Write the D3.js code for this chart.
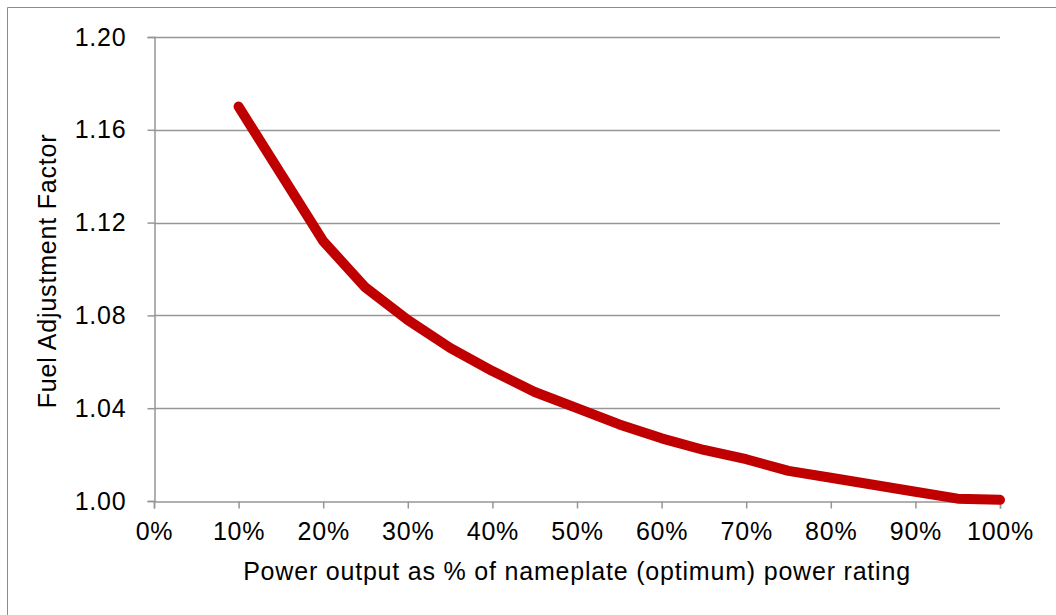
<!DOCTYPE html>
<html><head><meta charset="utf-8">
<script src="https://cdn.jsdelivr.net/npm/d3@7"></script>
<style>
html,body{margin:0;padding:0;background:#fff;}
svg{display:block;font-family:"Liberation Sans",Arial,sans-serif;}
</style></head>
<body><svg id="chart" width="1056" height="615"></svg>
<script>
const powerPct = [10,15,20,25,30,35,40,45,50,55,60,65,70,75,80,85,90,95,100];
const fuelFactor = [1.170,1.141,1.112,1.092,1.078,1.066,1.056,1.047,1.040,1.033,1.027,1.022,1.018,1.013,1.010,1.007,1.004,1.001,1.0005];
const xTicks = [0,10,20,30,40,50,60,70,80,90,100];
const yTicks = [1.00,1.04,1.08,1.12,1.16,1.20];
const xTitle = "Power output as % of nameplate (optimum) power rating";
const yTitle = "Fuel Adjustment Factor";

const svg = d3.select("#chart");
const L = 154, R = 1000, T = 37, B = 501;
const x = d3.scaleLinear().domain([0,100]).range([L,R]);
const y = d3.scaleLinear().domain([1.00,1.20]).range([B,T]);
const FS = "25px", LS = "0.8px";

// outer frame (top and left visible)
svg.append("line").attr("x1",7.5).attr("x2",1056).attr("y1",7.5).attr("y2",7.5).attr("stroke","#8c8c8c").attr("stroke-width",1);
svg.append("line").attr("x1",7.5).attr("x2",7.5).attr("y1",7.5).attr("y2",615).attr("stroke","#8c8c8c").attr("stroke-width",1);

// gridlines
svg.append("g").selectAll("line").data(yTicks.filter(d=>d>1.0)).join("line")
  .attr("x1",L).attr("x2",R).attr("y1",d=>Math.round(y(d))+0.5).attr("y2",d=>Math.round(y(d))+0.5)
  .attr("stroke","#969696").attr("stroke-width",1.3);

// y axis
const yAxis = svg.append("g").attr("transform",`translate(${L+0.5},0)`)
  .call(d3.axisLeft(y).tickValues(yTicks).tickFormat(d3.format(".2f")).tickSizeOuter(0).tickSize(7).tickPadding(21));
// x axis
const xAxis = svg.append("g").attr("transform",`translate(0,${B+0.5})`)
  .call(d3.axisBottom(x).tickValues(xTicks).tickFormat(d=>d+"%").tickSizeOuter(0).tickSize(7).tickPadding(14));
[yAxis,xAxis].forEach(g=>{
  g.select(".domain").attr("stroke","#969696").attr("stroke-width",1.5);
  g.selectAll(".tick line").attr("stroke","#969696").attr("stroke-width",1.5);
  g.selectAll(".tick text").attr("fill","#000").style("font-size",FS).style("letter-spacing",LS)
    .style("font-family","'Liberation Sans',Arial,sans-serif");
});

// line
const line = d3.line().x((d,i)=>x(powerPct[i])).y(d=>y(d));
svg.append("path").datum(fuelFactor).attr("d",line)
  .attr("fill","none").attr("stroke","#c00000").attr("stroke-width",10)
  .attr("stroke-linejoin","round").attr("stroke-linecap","round");

// titles
svg.append("text").attr("x",(L+R)/2).attr("y",580).attr("text-anchor","middle")
  .style("font-size",FS).style("letter-spacing",LS).attr("fill","#000").text(xTitle);
svg.append("text").attr("transform",`translate(56,271) rotate(-90)`).attr("text-anchor","middle")
  .style("font-size",FS).style("letter-spacing",LS).attr("fill","#000").text(yTitle);
</script></body></html>
